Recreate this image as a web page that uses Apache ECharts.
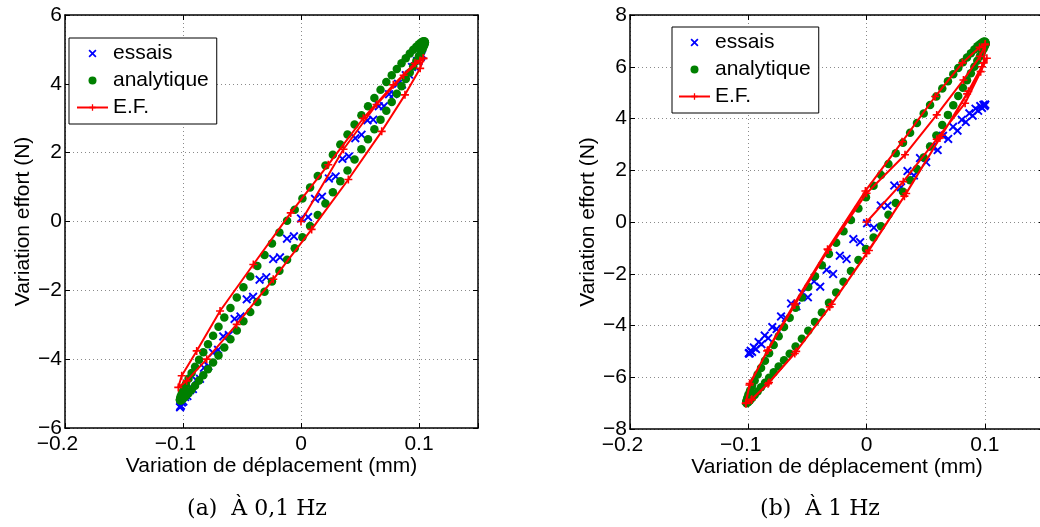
<!DOCTYPE html>
<html>
<head>
<meta charset="utf-8">
<script src="https://cdn.jsdelivr.net/npm/echarts@6/dist/echarts.min.js"></script>
<style>
html,body{margin:0;padding:0;background:#fff;}
#c{width:1040px;height:527px;}
</style>
</head>
<body>
<div id="c"></div>
<script>
// ---------- Data ----------
// (a) 0,1 Hz — essais : ascending branch (x, y) and descending branch (x, y)
const essA_x = [-0.1025,-0.1018,-0.0997,-0.0963,-0.0916,-0.0856,-0.0785,-0.0703,-0.0612,-0.0513,-0.0406,-0.0294,-0.0178,-0.0060,0.0060,0.0178,0.0294,0.0406,0.0513,0.0612,0.0703,0.0785,0.0856,0.0916,0.0963,0.0997,0.1018,0.1025];
const essA_low = [-5.40,-5.35,-5.23,-5.07,-4.87,-4.57,-4.20,-3.73,-3.30,-2.76,-2.19,-1.62,-1.04,-0.43,0.13,0.72,1.31,1.89,2.52,2.96,3.35,3.70,3.98,4.27,4.51,4.67,4.79,4.85];
const essA_hx = [-0.1023,-0.1009,-0.0982,-0.0941,-0.0888,-0.0822,-0.0746,-0.0659,-0.0563,-0.0460,-0.0351,-0.0236,-0.0119,0,0.0119,0.0236,0.0351,0.0460,0.0563,0.0659,0.0746,0.0822,0.0888,0.0941,0.0982,0.1009,0.1023];
const essA_up = [-5.37,-5.26,-5.10,-4.90,-4.61,-4.25,-3.81,-3.34,-2.83,-2.26,-1.69,-1.09,-0.50,0.09,0.66,1.25,1.82,2.42,2.94,3.35,3.70,4.00,4.25,4.49,4.66,4.78,4.84];

// (a) analytique : upper and lower branch on shared x
const anaA_x = [-0.1026,-0.1024,-0.1018,-0.1008,-0.0993,-0.0975,-0.0953,-0.0927,-0.0898,-0.0864,-0.0828,-0.0788,-0.0745,-0.0699,-0.0650,-0.0598,-0.0544,-0.0488,-0.0430,-0.0370,-0.0309,-0.0246,-0.0183,-0.0118,-0.0053,0.0012,0.0077,0.0142,0.0207,0.0270,0.0333,0.0394,0.0454,0.0512,0.0568,0.0622,0.0674,0.0723,0.0769,0.0812,0.0852,0.0888,0.0922,0.0951,0.0977,0.0999,0.1017,0.1032,0.1042,0.1048,0.1050];
const anaA_up = [-5.18,-5.13,-5.06,-4.97,-4.85,-4.72,-4.57,-4.40,-4.22,-4.02,-3.80,-3.57,-3.32,-3.06,-2.79,-2.51,-2.21,-1.91,-1.60,-1.29,-0.97,-0.64,-0.32,0.02,0.34,0.67,0.99,1.32,1.63,1.94,2.24,2.53,2.82,3.09,3.35,3.59,3.83,4.05,4.25,4.43,4.60,4.74,4.88,4.99,5.08,5.15,5.20,5.23,5.24,5.23,5.20];
const anaA_low = [-5.18,-5.20,-5.20,-5.18,-5.13,-5.07,-4.99,-4.89,-4.77,-4.62,-4.47,-4.29,-4.10,-3.89,-3.66,-3.42,-3.17,-2.90,-2.63,-2.34,-2.04,-1.74,-1.43,-1.11,-0.78,-0.46,-0.13,0.19,0.52,0.85,1.17,1.48,1.80,2.10,2.39,2.68,2.96,3.22,3.47,3.71,3.93,4.14,4.33,4.51,4.66,4.80,4.92,5.02,5.10,5.16,5.20];

// (a) E.F. (path in order)
const efA_x = [0,0.0360,0.0640,0.0870,0.1010,0.1037,0.1010,0.0881,0.0684,0.0401,0.0090,-0.0235,-0.0545,-0.0799,-0.0969,-0.1040,-0.1011,-0.0884,-0.0686,-0.0404,-0.0087,0.0231,0.0528,0.0782,0.0966,0.1037];
const efA_y = [0,2.10,3.40,4.25,4.68,4.74,4.45,3.68,2.62,1.22,-0.23,-1.68,-2.99,-4.00,-4.63,-4.82,-4.48,-3.76,-2.60,-1.25,0.25,1.65,3.00,3.97,4.60,4.74];

// (b) 1 Hz — essais
const essB_x = [-0.0995,-0.0988,-0.0968,-0.0935,-0.0889,-0.0831,-0.0761,-0.0682,-0.0593,-0.0496,-0.0392,-0.0283,-0.0169,-0.0054,0.0062,0.0177,0.0291,0.0400,0.0504,0.0601,0.0690,0.0769,0.0839,0.0897,0.0943,0.0976,0.0996,0.1003];
const essB_low = [-5.08,-5.08,-5.02,-4.91,-4.72,-4.49,-4.14,-3.71,-3.26,-2.91,-2.50,-2.01,-1.43,-0.78,-0.22,0.63,1.34,1.80,2.31,2.78,3.21,3.53,3.86,4.11,4.30,4.41,4.48,4.53];
const essB_hx = [-0.0993,-0.0980,-0.0953,-0.0913,-0.0861,-0.0797,-0.0723,-0.0638,-0.0545,-0.0444,-0.0338,-0.0226,-0.0112,0.0004,0.0120,0.0234,0.0346,0.0452,0.0553,0.0646,0.0731,0.0805,0.0869,0.0921,0.0961,0.0988,0.1001];
const essB_up = [-5.06,-4.98,-4.85,-4.64,-4.39,-4.06,-3.65,-3.15,-2.74,-2.30,-1.85,-1.30,-0.66,-0.05,0.64,1.41,1.97,2.47,2.91,3.33,3.68,3.95,4.20,4.38,4.48,4.53,4.54];

// (b) analytique
const anaB_x = [-0.1017,-0.1015,-0.1009,-0.0999,-0.0985,-0.0968,-0.0946,-0.0921,-0.0892,-0.0859,-0.0824,-0.0785,-0.0743,-0.0698,-0.0650,-0.0600,-0.0547,-0.0493,-0.0436,-0.0378,-0.0318,-0.0257,-0.0195,-0.0132,-0.0069,-0.0005,0.0059,0.0122,0.0185,0.0247,0.0308,0.0368,0.0426,0.0483,0.0537,0.0590,0.0640,0.0688,0.0733,0.0775,0.0814,0.0849,0.0882,0.0911,0.0936,0.0958,0.0975,0.0989,0.0999,0.1005,0.1007];
const anaB_up = [-6.98,-6.91,-6.80,-6.67,-6.51,-6.33,-6.13,-5.89,-5.64,-5.36,-5.07,-4.75,-4.42,-4.06,-3.70,-3.31,-2.92,-2.51,-2.10,-1.67,-1.24,-0.80,-0.36,0.08,0.52,0.96,1.40,1.82,2.24,2.66,3.06,3.45,3.83,4.19,4.52,4.85,5.16,5.44,5.71,5.95,6.17,6.36,6.52,6.67,6.79,6.87,6.93,6.97,6.98,6.95,6.90];
const anaB_low = [-6.98,-7.00,-6.99,-6.96,-6.89,-6.80,-6.69,-6.55,-6.39,-6.21,-6.02,-5.81,-5.58,-5.34,-5.09,-4.81,-4.51,-4.20,-3.86,-3.50,-3.12,-2.72,-2.31,-1.89,-1.47,-1.04,-0.60,-0.16,0.28,0.73,1.17,1.61,2.05,2.49,2.92,3.34,3.75,4.14,4.51,4.87,5.19,5.48,5.75,6.00,6.23,6.41,6.56,6.69,6.79,6.86,6.90];

// (b) E.F. (path in order)
const efB_x = [0,0.0310,0.0593,0.0833,0.0965,0.1017,
  0.0975,0.0850,0.0620,0.0320,0.0000,-0.0311,-0.0607,-0.0833,-0.0975,-0.1022,
  -0.0988,-0.0833,-0.0607,-0.0325,0.0000,0.0325,0.0593,0.0819,0.0960,0.1003,
  0.0990,0.0860,0.0635,0.0335,0.0020,-0.0295,-0.0595,-0.0825,-0.0970,-0.1020,
  -0.0990,-0.0840,-0.0610,-0.0330,-0.0010,0.0300,0.0580,0.0810,0.0955,0.1003];
const efB_y = [0,1.56,3.20,4.59,5.81,6.33,
  6.00,4.95,3.25,1.00,-1.21,-3.28,-5.08,-6.25,-6.88,-7.01,
  -6.24,-4.95,-3.21,-1.08,1.11,2.60,4.14,5.49,6.40,6.85,
  6.15,5.05,3.35,1.10,-1.10,-3.18,-5.00,-6.20,-6.85,-7.00,
  -6.30,-4.98,-3.15,-1.05,1.20,3.10,4.85,6.15,6.75,6.88];

// axes / labels
const seriesNames = ['essais', 'analytique', 'E.F.'];
const xTitle = 'Variation de déplacement (mm)';
const yTitle = 'Variation effort (N)';
const xRange = [-0.2, 0.15], xStep = 0.1;
const yRangeA = [-6, 6], yRangeB = [-8, 8], yStep = 2;
const captions = ['(a)  À 0,1 Hz', '(b)  À 1 Hz'];

// ---------- build ----------
function sameXLoop(xs, a, b) {
  const out = [];
  for (let i = 0; i < xs.length; i++) out.push([xs[i], a[i]]);
  for (let i = xs.length - 1; i >= 0; i--) out.push([xs[i], b[i]]);
  return out;
}
function twoBranch(ax, ay, bx, by) {
  const out = [];
  for (let i = 0; i < ax.length; i++) out.push([ax[i], ay[i]]);
  for (let i = bx.length - 1; i >= 0; i--) out.push([bx[i], by[i]]);
  return out;
}
function pairs(xs, ys) { return xs.map((x, i) => [x, ys[i]]); }

const SANS = '"Liberation Sans", Arial, Helvetica, sans-serif';
const FS = 21;
const PLUS = 'path://M4,0H6V4H10V6H6V10H4V6H0V4H4Z';
const XMARK = 'path://M0,1.5L1.5,0L5,3.5L8.5,0L10,1.5L6.5,5L10,8.5L8.5,10L5,6.5L1.5,10L0,8.5L3.5,5Z';

function xLabelFmt(v) {
  const r = Math.round(v * 1000) / 1000;
  if (Math.abs(r * 10 - Math.round(r * 10)) > 1e-6) return '';
  if (r < 0) return '{n|\u2212' + Math.abs(r) + '}';
  return '{p|' + (r === 0 ? '0' : String(r)) + '}';
}
function yLabelFmt(v) {
  const r = Math.round(v * 1000) / 1000;
  return r < 0 ? '\u2212' + Math.abs(r) : String(r === 0 ? 0 : r);
}

const gridLine = { show: true, lineStyle: { color: '#8a8a8a', width: 1, type: [1, 3] } };
const axLine = { show: true, onZero: false, lineStyle: { color: '#000', width: 1.5 } };
const axTick = { show: true, inside: true, length: 5, lineStyle: { color: '#000', width: 1 } };

function mainX(gi) {
  return {
    gridIndex: gi, type: 'value', position: 'bottom',
    min: xRange[0], max: xRange[1], interval: xStep,
    axisLine: axLine, axisTick: axTick, splitLine: gridLine,
    axisLabel: {
      margin: 6, formatter: xLabelFmt, color: '#000',
      rich: {
        n: { fontSize: FS, fontFamily: SANS, color: '#000', padding: [0, 15, 0, 0] },
        p: { fontSize: FS, fontFamily: SANS, color: '#000' }
      }
    },
    name: xTitle, nameLocation: 'middle', nameGap: 28, nameMoveOverlap: false,
    nameTextStyle: { fontSize: FS, fontFamily: SANS, color: '#000' }
  };
}
function topX(gi) {
  return {
    gridIndex: gi, type: 'value', position: 'top',
    min: xRange[0], max: xRange[1], interval: xStep,
    axisLine: axLine, axisTick: axTick, axisLabel: { show: false }, splitLine: { show: false }
  };
}
function mainY(gi, rng) {
  return {
    gridIndex: gi, type: 'value', position: 'left',
    min: rng[0], max: rng[1], interval: yStep,
    axisLine: axLine, axisTick: axTick, splitLine: gridLine,
    axisLabel: { margin: 3, formatter: yLabelFmt, fontSize: FS, fontFamily: SANS, color: '#000' },
    name: yTitle, nameLocation: 'middle', nameGap: 31, nameRotate: 90, nameMoveOverlap: false,
    nameTextStyle: { fontSize: FS, fontFamily: SANS, color: '#000' }
  };
}
function rightY(gi, rng) {
  return {
    gridIndex: gi, type: 'value', position: 'right',
    min: rng[0], max: rng[1], interval: yStep,
    axisLine: axLine, axisTick: axTick, axisLabel: { show: false }, splitLine: { show: false }
  };
}

function essSeries(xi, yi, data) {
  return {
    name: seriesNames[0], type: 'scatter', xAxisIndex: xi, yAxisIndex: yi,
    symbol: XMARK, symbolSize: 9, symbolKeepAspect: true,
    itemStyle: { color: '#0000ff', opacity: 1 }, data: data, z: 2
  };
}
function anaSeries(xi, yi, data) {
  return {
    name: seriesNames[1], type: 'scatter', xAxisIndex: xi, yAxisIndex: yi,
    symbol: 'circle', symbolSize: 8.5,
    itemStyle: { color: '#008000', opacity: 1 }, data: data, z: 3
  };
}
function efSeries(xi, yi, data) {
  return {
    name: seriesNames[2], type: 'line', xAxisIndex: xi, yAxisIndex: yi,
    symbol: PLUS, symbolSize: 8, showSymbol: true, showAllSymbol: true, symbolKeepAspect: true,
    lineStyle: { color: '#ff0000', width: 2 }, itemStyle: { color: '#ff0000' },
    data: data, z: 4
  };
}

function legendAt(left, top, pad) {
  return {
    orient: 'vertical', left: left, top: top, data: seriesNames,
    itemWidth: 31, itemHeight: 8, itemGap: 6, padding: pad,
    borderColor: '#000', borderWidth: 1, backgroundColor: '#fff',
    selectedMode: false, symbolKeepAspect: true,
    textStyle: { fontSize: FS, fontFamily: SANS, color: '#000', padding: [0, 0, 0, 0] }
  };
}

const option = {
  animation: false,
  backgroundColor: '#fff',
  grid: [
    { left: 65, top: 15, width: 413, height: 413, containLabel: false, outerBoundsMode: 'none' },
    { left: 630, top: 15, width: 414, height: 414, containLabel: false, outerBoundsMode: 'none' }
  ],
  xAxis: [mainX(0), topX(0), mainX(1), topX(1)],
  yAxis: [mainY(0, yRangeA), rightY(0, yRangeA), mainY(1, yRangeB), rightY(1, yRangeB)],
  legend: [legendAt(69, 38, [5, 8, 6, 7]), legendAt(672, 27, [5, 8, 6, 6])],
  series: [
    essSeries(0, 0, twoBranch(essA_x, essA_low, essA_hx, essA_up)),
    anaSeries(0, 0, sameXLoop(anaA_x, anaA_up, anaA_low)),
    efSeries(0, 0, pairs(efA_x, efA_y)),
    essSeries(2, 2, twoBranch(essB_x, essB_low, essB_hx, essB_up)),
    anaSeries(2, 2, sameXLoop(anaB_x, anaB_up, anaB_low)),
    efSeries(2, 2, pairs(efB_x, efB_y))
  ],
  graphic: [
    { type: 'text', x: 257, y: 509, style: { text: captions[0], font: '22px "DejaVu Serif", serif', fill: '#000', align: 'center', verticalAlign: 'middle', textAlign: 'center', textVerticalAlign: 'middle' } },
    { type: 'text', x: 820, y: 509, style: { text: captions[1], font: '22px "DejaVu Serif", serif', fill: '#000', align: 'center', verticalAlign: 'middle', textAlign: 'center', textVerticalAlign: 'middle' } }
  ]
};

const chart = echarts.init(document.getElementById('c'), null, { renderer: 'canvas' });
chart.setOption(option);
</script>
</body>
</html>
